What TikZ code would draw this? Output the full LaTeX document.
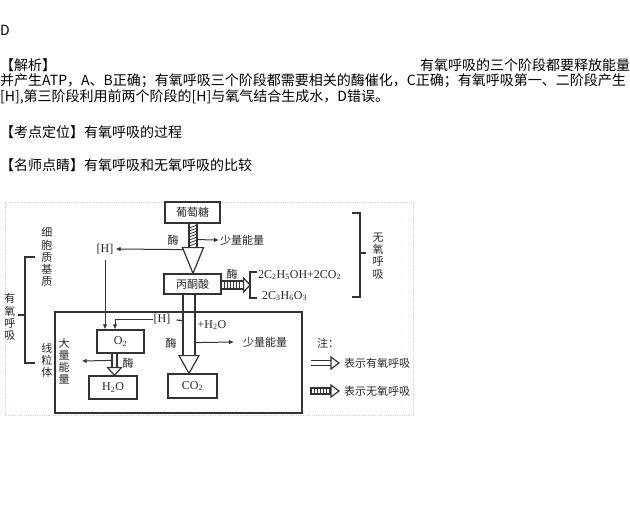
\documentclass[tikz,border=0pt]{standalone}
\usepackage{fontspec}
\setmainfont{Liberation Serif}
\newfontfamily\cjk{Noto Sans CJK SC}
\usetikzlibrary{calc,arrows.meta,positioning}

\tikzset{
  txt/.style={anchor=west, inner sep=0pt, font=\cjk\fontsize{14}{16}\selectfont},
  ln/.style={draw=black!80, line width=1.2pt},
  box/.style={ln, minimum width=#1, minimum height=21pt, inner sep=0pt,
    font=\cjk\fontsize{11}{12}\selectfont, text=black!85},
  lbl/.style={inner sep=0pt, font=\cjk\fontsize{11}{12}\selectfont, text=black!85},
  vtxt/.style={lbl, align=center, font=\cjk\fontsize{11}{12.2}\selectfont},
  chem/.style={inner sep=0pt, font=\fontsize{12}{13}\selectfont, text=black!85},
  harr/.style={ln, line width=1pt, -{Latex[length=5pt,width=4.5pt]}},
  frame/.style={densely dotted, draw=cyan!30!gray!35, line width=0.8pt}
}

\begin{document}
\begin{tikzpicture}[x=1pt,y=-1pt]
  \useasboundingbox (0,0) rectangle (630,522);
  % answer and explanation
  \node[txt] (ans) at (0,30) {D};
  \node[txt] (jx) at (0,65) {【解析】};
  \node[txt] (jx1) at (420,65) {有氧呼吸的三个阶段都要释放能量};
  \node[txt] (jx2) at (0,81) {并产生ATP，A、B正确；有氧呼吸三个阶段都需要相关的酶催化，C正确；有氧呼吸第一、二阶段产生};
  \node[txt] (jx3) at (0,97) {[H],第三阶段利用前两个阶段的[H]与氧气结合生成水，D错误。};
  \node[txt] (kd) at (0,132) {【考点定位】有氧呼吸的过程};
  \node[txt] (ms) at (0,165) {【名师点睛】有氧呼吸和无氧呼吸的比较};

  % diagram
  \draw[frame] (5,202) rectangle (413,415);
  \draw[ln] (55,312) rectangle (302,413);
  \node[box=55pt] (glc) at (192.5,212.5) {葡萄糖};
  \node[box=57pt, minimum height=20pt] (pyr) at (192.5,284) {丙酮酸};
  \node[box=47pt, minimum height=23pt, chem] (o2) at (120.5,341.5) {O\textsubscript{2}};
  \node[box=48pt, minimum height=23pt, chem] (h2o) at (113,387.5) {H\textsubscript{2}O};
  \node[box=49pt, minimum height=24pt, chem] (co2) at (192.5,386) {CO\textsubscript{2}};

  % glucose -> pyruvate
  \coordinate (g0) at ($(glc.south)+(0.5,0)$);
  \draw[ln, fill=white] ($(g0)+(-4,0)$) rectangle ($(g0)+(4,24)$);
  \foreach \k in {1,...,7}
    \draw[ln, line width=0.8pt] ($(g0)+(-4,3*\k+1.5)$) -- ++(8,-3);
  \draw[ln, fill=white] ($(g0)+(-10.5,24)$) -- ($(g0)+(10.5,24)$)
    -- (pyr.north -| g0) -- cycle;
  \node[lbl] (m1) at (173,240) {酶};
  \node[lbl, anchor=west] (e1) at (220,240) {少量能量};
  \draw[harr] ($(g0)+(4,16)$) -- ($(e1.west)+(-1,0)$);
  \node[chem] (h1) at (105,249) {[H]};
  \draw[harr] ($(g0)+(-9.7,26)$) -- ($(h1.east)+(2,0)$);
  \draw[harr] ($(h1.south)+(0,6)$) -- (h1.south |- o2.north);

  % pyruvate -> anaerobic products
  \coordinate (r0) at ($(pyr.east)+(0,1)$);
  \draw[ln, fill=white] ($(r0)+(0,-4)$) rectangle ($(r0)+(22,4)$);
  \foreach \k in {1,...,6}
    \draw[ln, line width=0.8pt] ($(r0)+(3*\k,-4)$) -- ++(0,8);
  \coordinate (pb) at (250,285);
  \draw[ln, fill=white] ($(r0)+(22,-7)$) -- (pb) -- ($(r0)+(22,7)$) -- cycle;
  \draw[ln] (257,272) -- (250,272) -- (250,298) -- (257,298);
  \node[lbl] (m2) at (232,274) {酶};
  \node[chem, anchor=west] (eth) at (258,275) {2C\textsubscript{2}H\textsubscript{5}OH+2CO\textsubscript{2}};
  \node[chem, anchor=west] (lac) at (262,296) {2C\textsubscript{3}H\textsubscript{6}O\textsubscript{3}};

  % pyruvate -> CO2
  \coordinate (p0) at ($(pyr.south)+(-3.5,0)$);
  \draw[ln] ($(p0)+(-6,0)$) -- ($(p0)+(-6,61)$);
  \draw[ln] ($(p0)+(6,0)$) -- ($(p0)+(6,61)$);
  \draw[ln, fill=white] ($(p0)+(-10,61)$) -- ($(p0)+(10,61)$)
    -- (co2.north -| p0) -- cycle;
  \node[chem] (h2) at (162,319) {[H]};
  \draw[ln] ($(p0)+(-6,26)$) -- ($(h2.east)+(6,1)$);
  \draw[harr] (h2.west) -| ($(o2.north)+(-5.5,0)$);
  \node[chem] (w) at (212,325) {+H\textsubscript{2}O};
  \node[lbl] (m3) at (171,343) {酶};
  \node[lbl, anchor=west] (e2) at (243,342) {少量能量};
  \draw[harr] ($(p0)+(6,48)$) -- ($(e2.west)+(-9,0)$);

  % O2 -> H2O
  \coordinate (o0) at ($(h2o.north)+(1.5,0)$);
  \draw[ln] ($(o2.south -| o0)+(-2.5,0)$) -- ($(o0)+(-2.5,-8)$);
  \draw[ln] ($(o2.south -| o0)+(2.5,0)$) -- ($(o0)+(2.5,-8)$);
  \draw[ln, fill=white] ($(o0)+(-7,-8)$) -- ($(o0)+(7,-8)$) -- (o0) -- cycle;
  \node[lbl] (m4) at (128,363) {酶};
  \node[vtxt] (e3) at (64,361) {大\\量\\能\\量};
  \draw[harr] ($(o0)+(-2.5,-15)$) -- ($(e3.east)+(12,0)$);

  % brackets and places
  \node[vtxt] (cyt) at (47,257) {细\\胞\\质\\基\\质};
  \node[vtxt] (mit) at (47,360) {线\\粒\\体};
  \node[vtxt] (aer) at (10,317) {有\\氧\\呼\\吸};
  \draw[ln] (35,257) -- (25,257) -- (25,363) -- (35,363);
  \draw[ln] (25,315) -- (18,315);
  \node[vtxt] (ana) at (378,256) {无\\氧\\呼\\吸};
  \draw[ln] (352,213) -- (360,213) -- (360,297) -- (352,297);
  \draw[ln] (360,253) -- (366,253);

  % legend
  \node[lbl, anchor=west] (zhu) at (317,343) {注：};
  \node[lbl, anchor=west] (ly) at (344,363) {表示有氧呼吸};
  \node[lbl, anchor=west] (lw) at (344,391) {表示无氧呼吸};
  \coordinate (la) at ($(ly.west)+(-5,0)$);
  \draw[ln] ($(la)+(-28,-2.5)$) -- ($(la)+(-8,-2.5)$);
  \draw[ln] ($(la)+(-28,2.5)$) -- ($(la)+(-8,2.5)$);
  \draw[ln, fill=white] ($(la)+(-8,-6)$) -- (la) -- ($(la)+(-8,6)$) -- cycle;
  \coordinate (lb) at ($(lw.west)+(-5,0)$);
  \draw[ln, fill=white] ($(lb)+(-28,-3)$) rectangle ($(lb)+(-8,3)$);
  \foreach \k in {1,...,6}
    \draw[ln, line width=0.8pt] ($(lb)+(-28+3*\k,-3)$) -- ++(0,6);
  \draw[ln, fill=white] ($(lb)+(-8,-6)$) -- (lb) -- ($(lb)+(-8,6)$) -- cycle;
\end{tikzpicture}
\end{document}
